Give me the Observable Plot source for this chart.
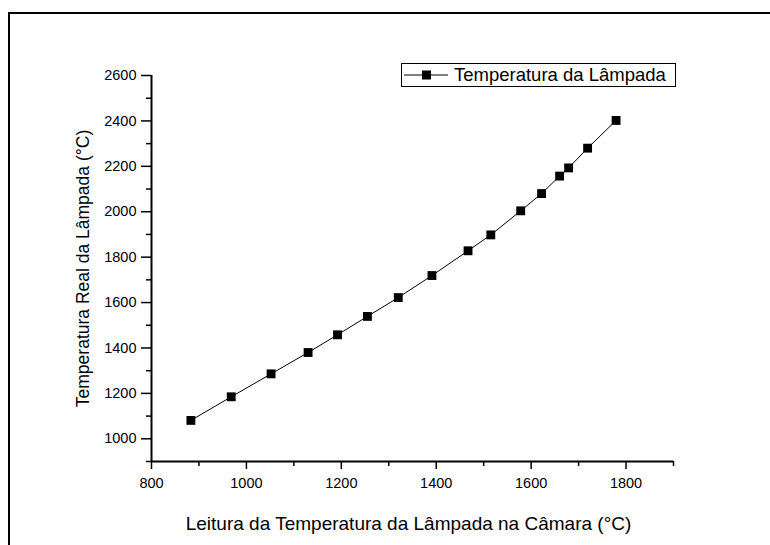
<!DOCTYPE html>
<html>
<head>
<meta charset="utf-8">
<script src="https://cdn.jsdelivr.net/npm/d3@7"></script>
<script src="https://cdn.jsdelivr.net/npm/@observablehq/plot@0.6"></script>
<style>
  body { margin: 0; background: #fff; }
  #wrap { position: relative; width: 770px; height: 545px; overflow: hidden;
          font-family: "Liberation Sans", Arial, sans-serif; color: #000; }
  #border { position: absolute; left: 8px; top: 12px; right: -10px; bottom: -10px;
            border-left: 2px solid #000; border-top: 2px solid #000; pointer-events: none; }
  #chart { position: absolute; left: 0; top: 0; }
  #legend { position: absolute; left: 401px; top: 63px; width: 273px; height: 22px;
            border: 1px solid #000; background: #fff; display: flex; align-items: center;
            font-size: 18.5px; line-height: 1; white-space: nowrap; }
  #legend svg { flex: none; }
  #legend span { margin-left: 4px; }
</style>
</head>
<body>
<div id="wrap">
  <div id="border"></div>
  <div id="chart"></div>
  <div id="legend"></div>
</div>
<script>
// Camera reading vs. real lamp temperature (°C)
const cameraReading = [883, 968, 1052, 1130, 1192, 1255, 1320, 1391, 1467, 1515, 1578, 1622, 1660, 1679, 1719, 1779];
const realTemp      = [1081, 1185, 1286, 1380, 1458, 1539, 1622, 1719, 1828, 1898, 2004, 2080, 2157, 2193, 2280, 2402];

const xMajorTicks = [800, 1000, 1200, 1400, 1600, 1800];
const xMinorTicks = [900, 1100, 1300, 1500, 1700, 1900];
const yMajorTicks = [1000, 1200, 1400, 1600, 1800, 2000, 2200, 2400, 2600];
const yMinorTicks = [900, 1100, 1300, 1500, 1700, 1900, 2100, 2300, 2500];

const seriesName = "Temperatura da Lâmpada";
const xTitle = "Leitura da Temperatura da Lâmpada na Câmara (°C)";
const yTitle = "Temperatura Real da Lâmpada (°C)";

const points = cameraReading.map((x, i) => ({x, y: realTemp[i]}));
const fmt = d3.format("d");

const chart = Plot.plot({
  width: 770,
  height: 545,
  marginLeft: 151,
  marginRight: 97,
  marginTop: 75,
  marginBottom: 84,
  style: {fontFamily: "'Liberation Sans', Arial, sans-serif", color: "#000", background: "transparent"},
  x: {domain: [800, 1900]},
  y: {domain: [900, 2600]},
  marks: [
    // minor ticks
    Plot.axisX({ticks: xMinorTicks, tickSize: 5, strokeWidth: 1.5, text: null, label: null}),
    Plot.axisY({ticks: yMinorTicks, tickSize: 5, strokeWidth: 1.5, text: null, label: null}),
    // major ticks with labels
    Plot.axisX({ticks: xMajorTicks, tickSize: 8, tickPadding: 8, strokeWidth: 1.5,
                tickFormat: fmt, fontSize: 14.5, label: null}),
    Plot.axisY({ticks: yMajorTicks, tickSize: 10, tickPadding: 5, strokeWidth: 1.5,
                tickFormat: fmt, fontSize: 14.5, label: null}),
    // axis lines
    Plot.ruleX([800], {stroke: "#000", strokeWidth: 2}),
    Plot.ruleY([900], {stroke: "#000", strokeWidth: 2}),
    // axis titles
    Plot.text([xTitle], {frameAnchor: "bottom", dx: -4, dy: 68, lineAnchor: "bottom",
                         textAnchor: "middle", fontSize: 19, fill: "#000"}),
    Plot.text([yTitle], {frameAnchor: "left", dx: -63, rotate: -90, lineAnchor: "bottom",
                         textAnchor: "middle", fontSize: 17.5, fill: "#000"}),
    // series
    Plot.line(points, {x: "x", y: "y", stroke: "#000", strokeWidth: 1}),
    Plot.dot(points, {x: "x", y: "y", symbol: "square", r: 5, fill: "#000"})
  ]
});
document.getElementById("chart").append(chart);

// legend: line with square marker, then the series name
const legend = document.getElementById("legend");
legend.innerHTML =
  `<svg width="48" height="22"><line x1="2" x2="46" y1="11" y2="11" stroke="#000" stroke-width="1"/>` +
  `<rect x="20" y="6.5" width="9" height="9" fill="#000"/></svg><span></span>`;
legend.querySelector("span").textContent = seriesName;
</script>
</body>
</html>
